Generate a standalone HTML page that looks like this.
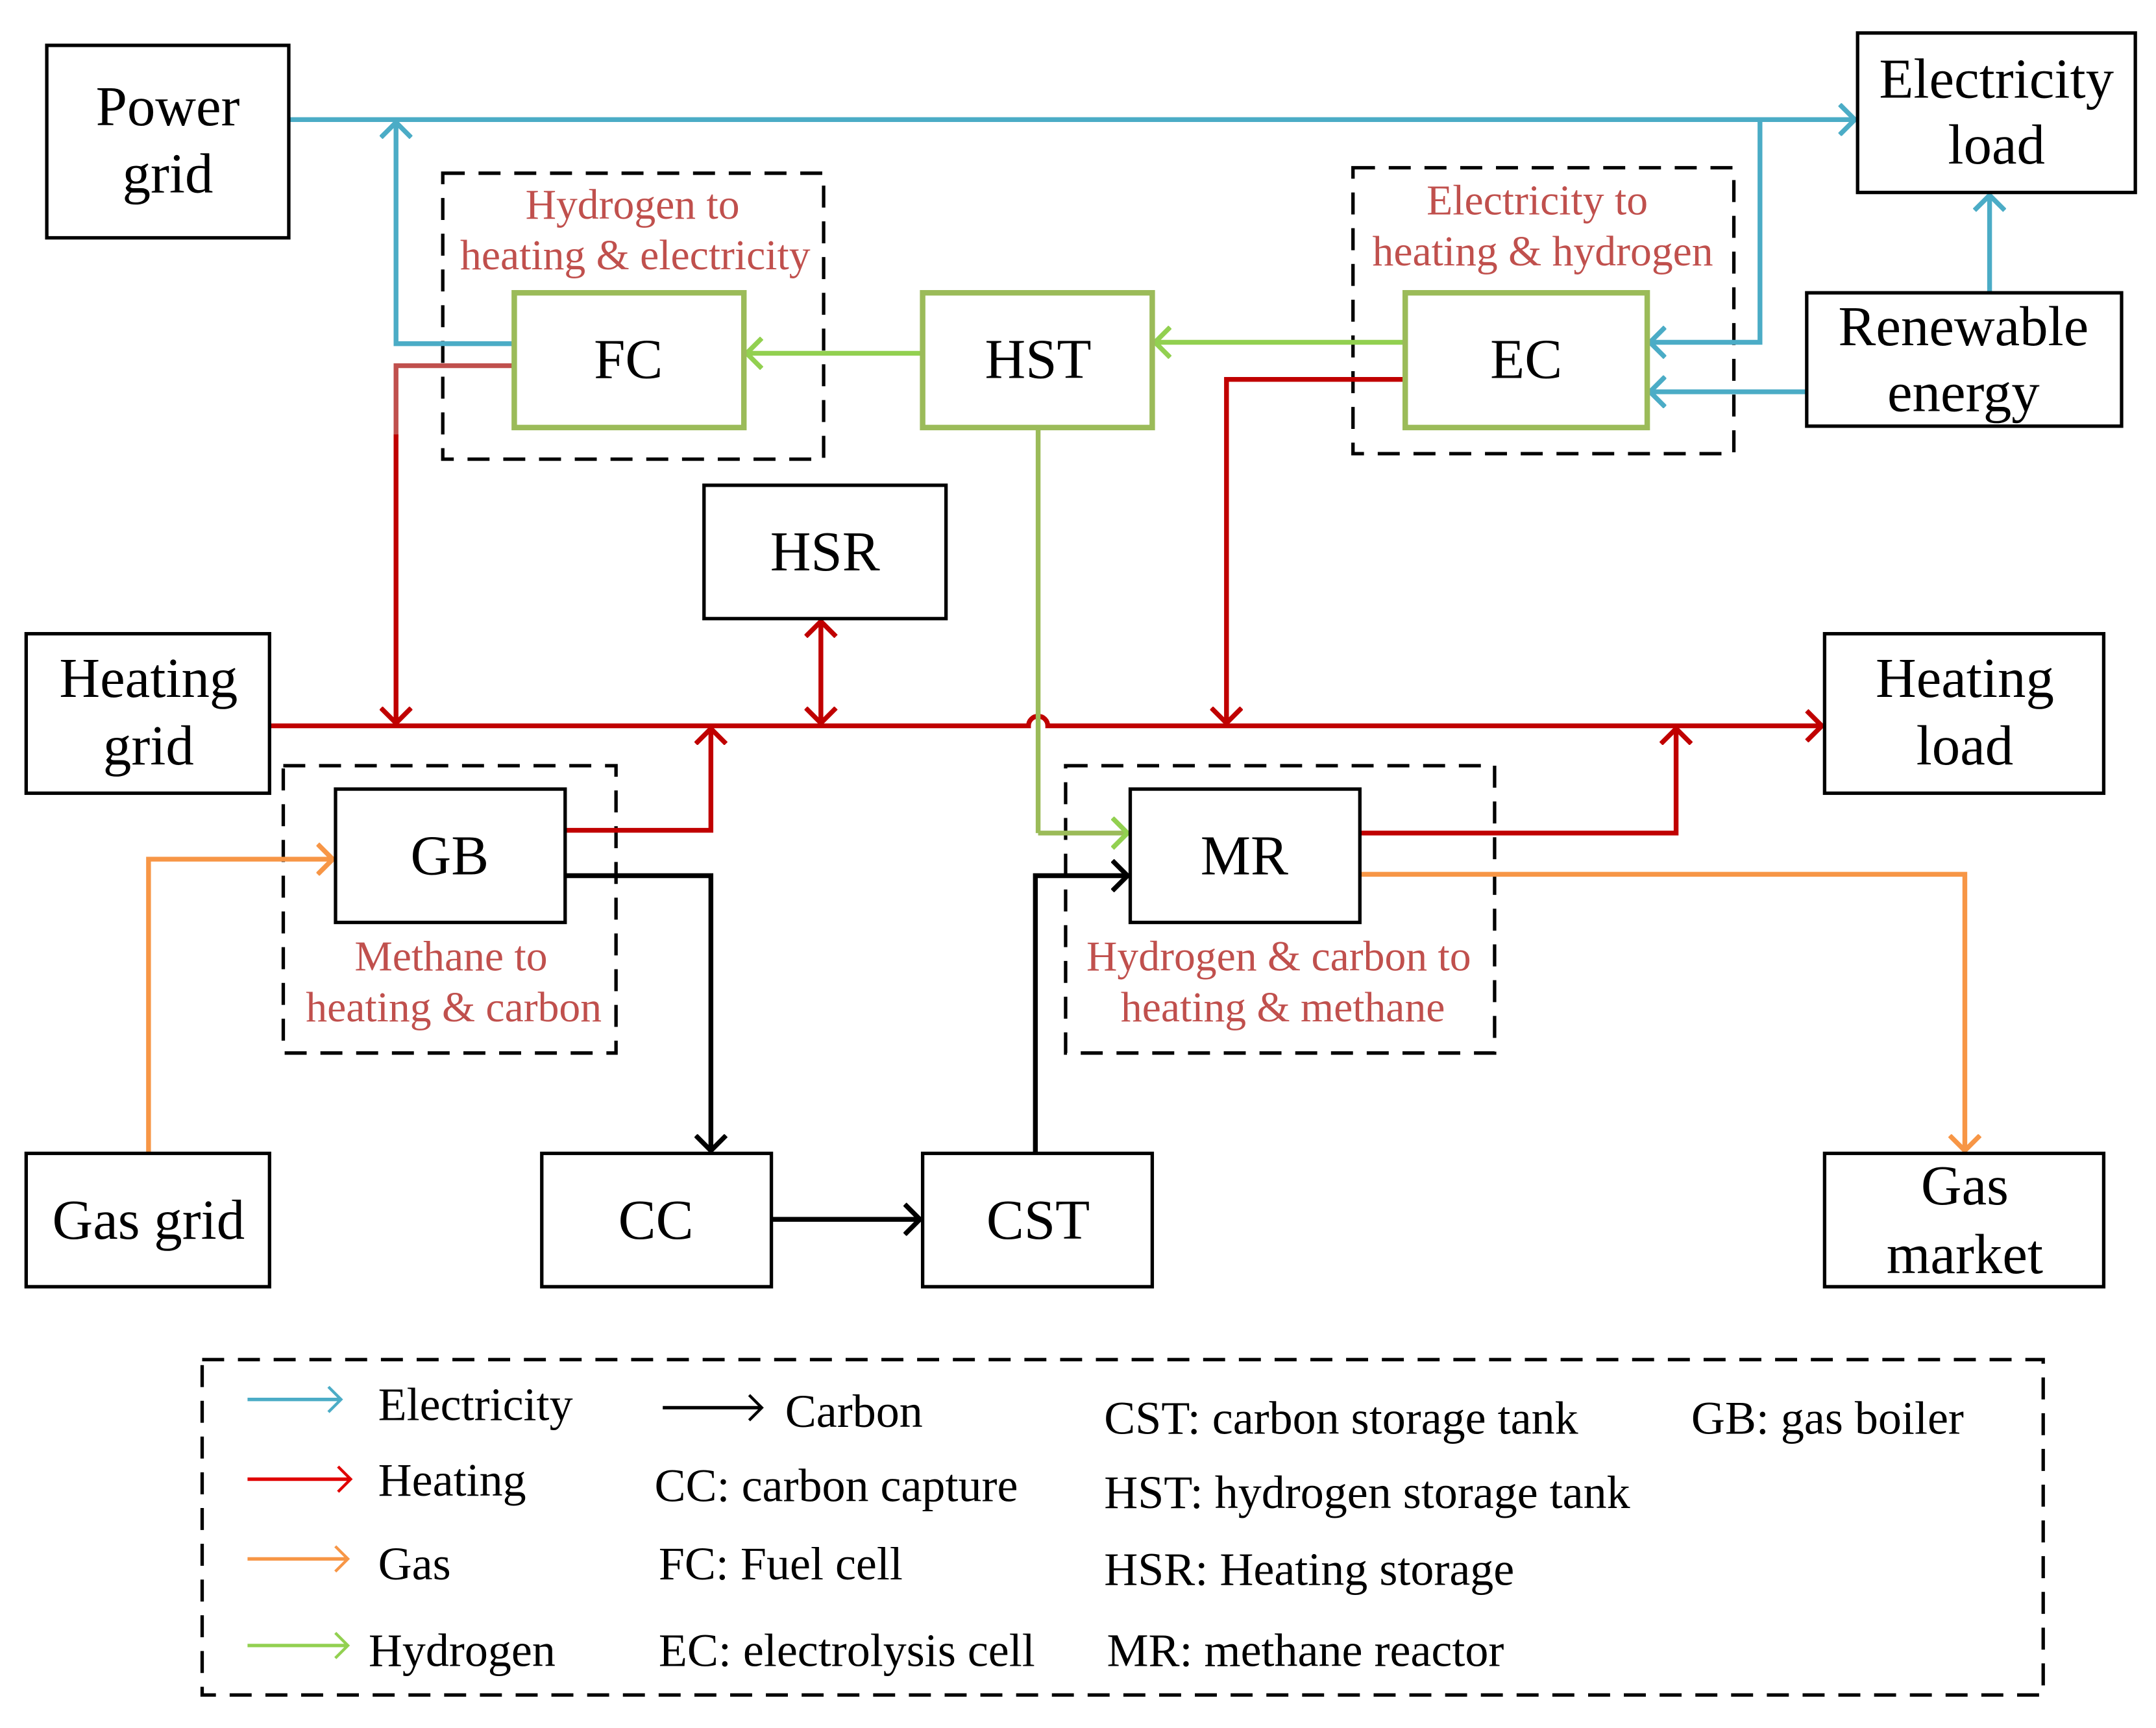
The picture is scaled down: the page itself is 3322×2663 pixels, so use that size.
<!DOCTYPE html>
<html><head><meta charset="utf-8"><style>
html,body{margin:0;padding:0;background:#fff}
svg{display:block}
text{font-family:"Liberation Serif",serif}
</style></head><body>
<svg width="3322" height="2663" viewBox="0 0 1568 1257" xmlns="http://www.w3.org/2000/svg">
<defs>
<marker id="ab" viewBox="0 0 14 24" refX="12" refY="12" markerWidth="14" markerHeight="24" markerUnits="userSpaceOnUse" orient="auto"><path d="M1,1 L12,12 L1,23" fill="none" stroke="#4bacc6" stroke-width="3.5"/></marker>
<marker id="ar" viewBox="0 0 14 24" refX="12" refY="12" markerWidth="14" markerHeight="24" markerUnits="userSpaceOnUse" orient="auto"><path d="M1,1 L12,12 L1,23" fill="none" stroke="#c00000" stroke-width="3.5"/></marker>
<marker id="arr" viewBox="0 0 14 24" refX="12" refY="12" markerWidth="14" markerHeight="24" markerUnits="userSpaceOnUse" orient="auto-start-reverse"><path d="M1,1 L12,12 L1,23" fill="none" stroke="#c00000" stroke-width="3.5"/></marker>
<marker id="ag" viewBox="0 0 14 24" refX="12" refY="12" markerWidth="14" markerHeight="24" markerUnits="userSpaceOnUse" orient="auto"><path d="M1,1 L12,12 L1,23" fill="none" stroke="#92d050" stroke-width="3.5"/></marker>
<marker id="ao" viewBox="0 0 14 24" refX="12" refY="12" markerWidth="14" markerHeight="24" markerUnits="userSpaceOnUse" orient="auto"><path d="M1,1 L12,12 L1,23" fill="none" stroke="#f79646" stroke-width="3.5"/></marker>
<marker id="ak" viewBox="0 0 14 24" refX="12" refY="12" markerWidth="14" markerHeight="24" markerUnits="userSpaceOnUse" orient="auto"><path d="M1,1 L12,12 L1,23" fill="none" stroke="#000" stroke-width="3.5"/></marker>
<marker id="lb" viewBox="0 0 14 24" refX="12" refY="12" markerWidth="12" markerHeight="20" markerUnits="userSpaceOnUse" orient="auto"><path d="M1,1 L12,12 L1,23" fill="none" stroke="#4bacc6" stroke-width="2.5"/></marker>
<marker id="lr" viewBox="0 0 14 24" refX="12" refY="12" markerWidth="12" markerHeight="20" markerUnits="userSpaceOnUse" orient="auto"><path d="M1,1 L12,12 L1,23" fill="none" stroke="#e00000" stroke-width="2.5"/></marker>
<marker id="lo" viewBox="0 0 14 24" refX="12" refY="12" markerWidth="12" markerHeight="20" markerUnits="userSpaceOnUse" orient="auto"><path d="M1,1 L12,12 L1,23" fill="none" stroke="#f79646" stroke-width="2.5"/></marker>
<marker id="lg" viewBox="0 0 14 24" refX="12" refY="12" markerWidth="12" markerHeight="20" markerUnits="userSpaceOnUse" orient="auto"><path d="M1,1 L12,12 L1,23" fill="none" stroke="#92d050" stroke-width="2.5"/></marker>
<marker id="lk" viewBox="0 0 14 24" refX="12" refY="12" markerWidth="12" markerHeight="20" markerUnits="userSpaceOnUse" orient="auto"><path d="M1,1 L12,12 L1,23" fill="none" stroke="#000" stroke-width="2.5"/></marker>
</defs>

<g fill="none" stroke="#000" stroke-width="2.5" stroke-dasharray="16,10">
<rect x="322" y="126" width="277" height="208"/>
<rect x="984" y="122" width="277" height="208"/>
<rect x="206" y="557" width="242" height="209"/>
<rect x="775" y="557" width="312" height="209"/>
<rect x="147" y="989" width="1339" height="244"/>
</g>

<g fill="none" stroke-width="3.5" stroke-linejoin="miter">
<path d="M210,87 H1349" stroke="#4bacc6" marker-end="url(#ab)"/>
<path d="M374,250 H288 V89" stroke="#4bacc6" marker-end="url(#ab)"/>
<path d="M1280,87 V249 H1200" stroke="#4bacc6" marker-end="url(#ab)"/>
<path d="M1314,285 H1200" stroke="#4bacc6" marker-end="url(#ab)"/>
<path d="M1447,213 V142" stroke="#4bacc6" marker-end="url(#ab)"/>

<path d="M374,266 H288 V318" stroke="#c0504d"/>
<path d="M288,316 V526" stroke="#c00000" marker-end="url(#ar)"/>
<path d="M196,528 H748 A7,7 0 0 1 762,528 H1325" stroke="#c00000" marker-end="url(#ar)"/>
<path d="M597,452 V526" stroke="#c00000" marker-start="url(#arr)" marker-end="url(#arr)"/>
<path d="M1022,276 H892 V526" stroke="#c00000" marker-end="url(#ar)"/>
<path d="M411,604 H517 V530" stroke="#c00000" marker-end="url(#ar)"/>
<path d="M989,606 H1219 V530" stroke="#c00000" marker-end="url(#ar)"/>

<path d="M671,257 H543" stroke="#92d050" marker-end="url(#ag)"/>
<path d="M1022,249 H840" stroke="#92d050" marker-end="url(#ag)"/>
<path d="M755,311 V606" stroke="#9bbb59"/>
<path d="M755,606 H820" stroke="#9bbb59" marker-end="url(#ag)"/>

<path d="M108,839 V625 H242" stroke="#f79646" marker-end="url(#ao)"/>
<path d="M989,636 H1429 V837" stroke="#f79646" marker-end="url(#ao)"/>

<path d="M411,637 H517 V837" stroke="#000" marker-end="url(#ak)"/>
<path d="M561,887 H669" stroke="#000" marker-end="url(#ak)"/>
<path d="M753,839 V637 H820" stroke="#000" marker-end="url(#ak)"/>
</g>

<g fill="#fff" stroke="#000" stroke-width="2.5">
<rect x="34" y="33" width="176" height="140"/>
<rect x="1351" y="24" width="202" height="116"/>
<rect x="1314" y="213" width="229" height="97"/>
<rect x="19" y="461" width="177" height="116"/>
<rect x="1327" y="461" width="203" height="116"/>
<rect x="19" y="839" width="177" height="97"/>
<rect x="394" y="839" width="167" height="97"/>
<rect x="671" y="839" width="167" height="97"/>
<rect x="1327" y="839" width="203" height="97"/>
<rect x="512" y="353" width="176" height="97"/>
<rect x="244" y="574" width="167" height="97"/>
<rect x="822" y="574" width="167" height="97"/>
</g>
<g fill="#fff" stroke="#9bbb59" stroke-width="4">
<rect x="374" y="213" width="167" height="98"/>
<rect x="671" y="213" width="167" height="98"/>
<rect x="1022" y="213" width="176" height="98"/>
</g>

<g font-size="41" text-anchor="middle" fill="#000">
<text x="122" y="91">Power</text><text x="122" y="140">grid</text>
<text x="1452" y="71">Electricity</text><text x="1452" y="119">load</text>
<text x="1428" y="251">Renewable</text><text x="1428" y="299">energy</text>
<text x="108" y="507">Heating</text><text x="108" y="556">grid</text>
<text x="1429" y="507">Heating</text><text x="1429" y="556">load</text>
<text x="108" y="901">Gas grid</text>
<text x="477" y="901">CC</text>
<text x="755" y="901">CST</text>
<text x="1429" y="876">Gas</text><text x="1429" y="926">market</text>
<text x="600" y="415">HSR</text>
<text x="457" y="275">FC</text>
<text x="755" y="275">HST</text>
<text x="1110" y="275">EC</text>
<text x="327" y="636">GB</text>
<text x="905" y="636">MR</text>
</g>
<g font-size="31" text-anchor="middle" fill="#c0504d">
<text x="460" y="159">Hydrogen to</text><text x="462" y="196">heating &amp; electricity</text>
<text x="1118" y="156">Electricity to</text><text x="1122" y="193">heating &amp; hydrogen</text>
<text x="328" y="706">Methane to</text><text x="330" y="743">heating &amp; carbon</text>
<text x="930" y="706">Hydrogen &amp; carbon to</text><text x="933" y="743">heating &amp; methane</text>
</g>

<g fill="none" stroke-width="2.5">
<path d="M180,1018 H248" stroke="#4bacc6" marker-end="url(#lb)"/>
<path d="M180,1076 H255" stroke="#e00000" marker-end="url(#lr)"/>
<path d="M180,1134 H253" stroke="#f79646" marker-end="url(#lo)"/>
<path d="M180,1197 H253" stroke="#92d050" marker-end="url(#lg)"/>
<path d="M482,1024 H554" stroke="#000" marker-end="url(#lk)"/>
</g>
<g font-size="34" fill="#000">
<text x="275" y="1033">Electricity</text>
<text x="275" y="1088">Heating</text>
<text x="275" y="1149">Gas</text>
<text x="268" y="1212">Hydrogen</text>
<text x="571" y="1038">Carbon</text>
<text x="476" y="1092">CC: carbon capture</text>
<text x="479" y="1149">FC: Fuel cell</text>
<text x="479" y="1212">EC: electrolysis cell</text>
<text x="803" y="1043">CST: carbon storage tank</text>
<text x="803" y="1097">HST: hydrogen storage tank</text>
<text x="803" y="1153">HSR: Heating storage</text>
<text x="805" y="1212">MR: methane reactor</text>
<text x="1230" y="1043">GB: gas boiler</text>
</g>
</svg>
</body></html>
